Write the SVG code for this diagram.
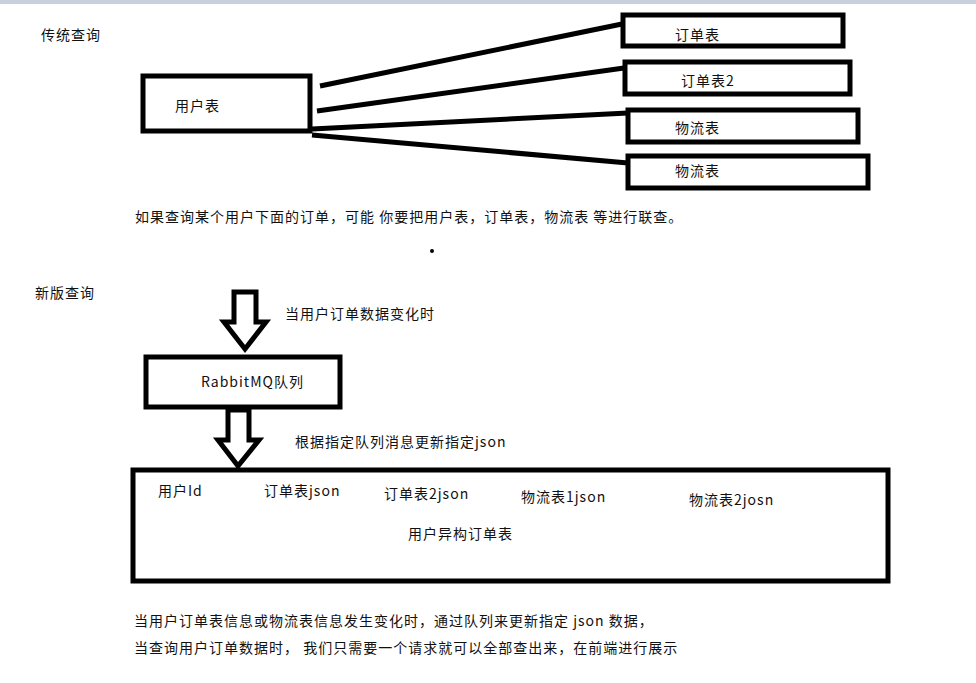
<svg xmlns="http://www.w3.org/2000/svg" width="976" height="683" viewBox="0 0 976 683">
<style>
.b{fill:#fff;stroke:#000;stroke-width:5}
.l{stroke:#000;stroke-width:5;fill:none}
text{font-family:"Microsoft YaHei","Noto Sans CJK SC",sans-serif;font-size:14px;letter-spacing:1px;fill:#111}
.a{fill:#fff;stroke:#000;stroke-width:5;stroke-linejoin:miter}
</style>
<rect width="976" height="683" fill="#fff"/>
<rect width="976" height="4" fill="#c8d0dc"/>
<text x="41" y="40">传统查询</text>
<g id="connectors">
<line class="l" x1="320" y1="86" x2="622" y2="24"/>
<line class="l" x1="317" y1="111" x2="624" y2="68"/>
<line class="l" x1="312" y1="129" x2="628" y2="113"/>
<line class="l" x1="312" y1="135" x2="628" y2="163"/>
</g>
<g id="users"><rect class="b" x="143" y="76" width="167" height="55"/><text x="175" y="111">用户表</text></g>
<g id="order1"><rect class="b" x="623" y="15" width="220" height="31"/><text x="675" y="40">订单表</text></g>
<g id="order2"><rect class="b" x="625" y="62" width="225" height="32"/><text x="681" y="86">订单表2</text></g>
<g id="log1"><rect class="b" x="628" y="110" width="230" height="32"/><text x="675" y="133">物流表</text></g>
<g id="log2"><rect class="b" x="628" y="156" width="240" height="32"/><text x="675" y="176">物流表</text></g>
<text x="135" y="222">如果查询某个用户下面的订单，可能 你要把用户表，订单表，物流表 等进行联查。</text>
<circle cx="432" cy="251" r="2" fill="#000"/>
<text x="35" y="298">新版查询</text>
<g id="arrow1"><polygon class="a" points="234,292 256,292 256,322 266,322 245,349 224,322 234,322"/></g>
<text x="285" y="319">当用户订单数据变化时</text>
<g id="mq"><rect class="b" x="146" y="357" width="194" height="50"/><text x="201" y="387">RabbitMQ队列</text></g>
<g id="arrow2"><polygon class="a" points="228,410 249,410 249,440 259,440 238,466 218,440 228,440"/></g>
<text x="295" y="447">根据指定队列消息更新指定json</text>
<g id="table"><rect class="b" x="133" y="470" width="755" height="111"/>
<text x="158" y="496">用户Id</text>
<text x="264" y="496">订单表json</text>
<text x="384" y="499">订单表2json</text>
<text x="521" y="502">物流表1json</text>
<text x="689" y="505">物流表2josn</text>
<text x="408" y="539">用户异构订单表</text></g>
<text x="134" y="626">当用户订单表信息或物流表信息发生变化时，通过队列来更新指定 json 数据，</text>
<text x="134" y="653">当查询用户订单数据时， 我们只需要一个请求就可以全部查出来，在前端进行展示</text>
</svg>
